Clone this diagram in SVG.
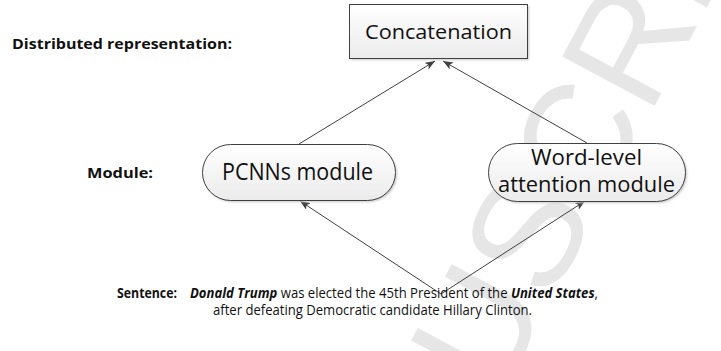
<svg xmlns="http://www.w3.org/2000/svg" width="721" height="351" viewBox="0 0 721 351">
  <style>
    .lbl { font-family: "Open Sans", "Liberation Sans", sans-serif; font-weight: bold; font-size: 13.5px; fill: #111; }
    .sent { font-family: "Open Sans", "Liberation Sans", sans-serif; font-size: 14.5px; fill: #111; }
    .node-text { font-family: "Open Sans", "Liberation Sans", sans-serif; fill: #111; text-anchor: middle; }
    .shape { stroke: #404040; stroke-width: 1; }
    .conn { fill: none; stroke: #404040; stroke-width: 1; }
    .shadow { fill: #c8c8c8; filter: url(#soft); }
    .wm { font-family: "Liberation Sans", sans-serif; font-size: 152px; fill: #e6e6e6; }
  </style>
  <defs>
    <linearGradient id="fillGrad" x1="0" y1="0" x2="0" y2="1">
      <stop offset="0" stop-color="#ffffff"/>
      <stop offset="1" stop-color="#ebebeb"/>
    </linearGradient>
    <filter id="soft" x="-10%" y="-10%" width="120%" height="130%">
      <feGaussianBlur stdDeviation="1.2"/>
    </filter>
    <marker id="arrow" viewBox="0 0 10 8" refX="10" refY="4" markerWidth="10" markerHeight="8" markerUnits="userSpaceOnUse" orient="auto-start-reverse">
      <path d="M0,0 L10,4 L0,8 L2.5,4 z" fill="#404040"/>
    </marker>
  </defs>

  <rect width="721" height="351" fill="#ffffff"/>

  <!-- faint background watermark -->
  <g id="watermark">
    <text class="wm" transform="translate(498,400) rotate(-62)">USCRIPT</text>
  </g>

  <!-- row labels -->
  <g id="labels">
    <text class="lbl" x="12" y="49" textLength="220" lengthAdjust="spacingAndGlyphs">Distributed representation:</text>
    <text class="lbl" x="87" y="178" textLength="66" lengthAdjust="spacingAndGlyphs">Module:</text>
    <text class="lbl" x="117" y="298" textLength="60" lengthAdjust="spacingAndGlyphs">Sentence:</text>
  </g>

  <!-- connectors -->
  <g id="connectors">
    <path class="conn" d="M299,144 L435,61" marker-end="url(#arrow)"/>
    <path class="conn" d="M587,143 L443,61" marker-end="url(#arrow)"/>
    <path class="conn" d="M300,201 L441,294 L585,201" marker-start="url(#arrow)" marker-end="url(#arrow)"/>
  </g>

  <g id="concatenation">
    <rect class="shadow" x="351" y="6" width="178" height="54"/>
    <rect class="shape" x="349.5" y="4.5" width="178" height="54" fill="url(#fillGrad)"/>
    <text class="node-text" x="438.5" y="39" font-size="20" textLength="147" lengthAdjust="spacingAndGlyphs">Concatenation</text>
  </g>

  <g id="pcnns">
    <rect class="shadow" x="204" y="146" width="193" height="56" rx="28"/>
    <rect class="shape" x="202.5" y="144.5" width="193" height="56" rx="28" fill="url(#fillGrad)"/>
    <text class="node-text" x="297.5" y="180" font-size="23" textLength="151" lengthAdjust="spacingAndGlyphs">PCNNs module</text>
  </g>

  <g id="word-level">
    <rect class="shadow" x="490" y="145" width="197" height="58" rx="29"/>
    <rect class="shape" x="488.5" y="143.5" width="197" height="58" rx="29" fill="url(#fillGrad)"/>
    <text class="node-text" x="586.5" y="165" font-size="21" textLength="111" lengthAdjust="spacingAndGlyphs">Word-level</text>
    <text class="node-text" x="586.5" y="192" font-size="21" textLength="177" lengthAdjust="spacingAndGlyphs">attention module</text>
  </g>

  <g id="sentence">
    <text class="sent" x="190" y="298" textLength="408" lengthAdjust="spacingAndGlyphs"><tspan font-weight="bold" font-style="italic">Donald Trump</tspan> was elected the 45th President of the <tspan font-weight="bold" font-style="italic">United States</tspan>,</text>
    <text class="sent" x="213" y="315" textLength="319" lengthAdjust="spacingAndGlyphs">after defeating Democratic candidate Hillary Clinton.</text>
  </g>
</svg>
